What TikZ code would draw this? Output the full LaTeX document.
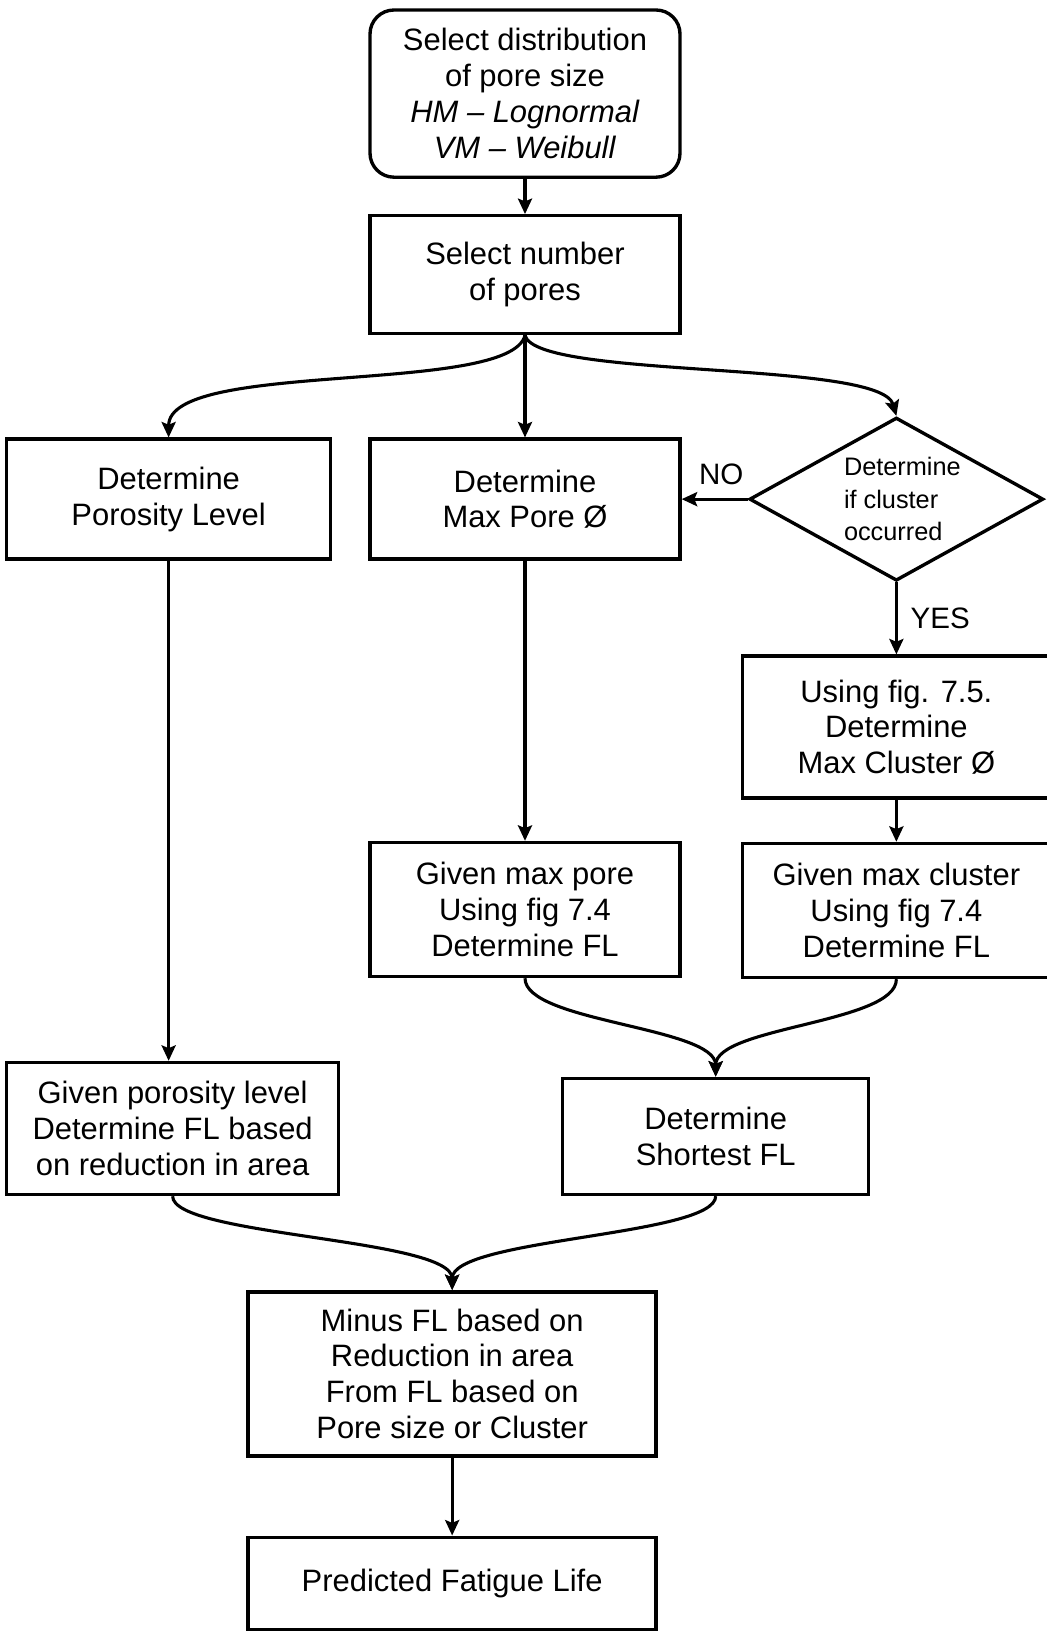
\documentclass[tikz,border=0pt]{standalone}
\usepackage{fontspec}
\setmainfont{Liberation Sans}
\usetikzlibrary{shapes.geometric, arrows.meta, positioning, calc}
\tikzstyle{process} = [rectangle, minimum width=7.75cm, minimum height=3cm, text centered, align=center, draw=black, line width=2.4pt, fill=white, font=\fontsize{22}{25.5}\selectfont]
\tikzstyle{startbox} = [process, rounded corners=0.6cm, minimum height=4.18cm]
\tikzstyle{decision} = [diamond, aspect=1.8, draw=black, line width=2.4pt, minimum width=7.35cm, minimum height=4.08cm, inner sep=0pt, align=left, font=\fontsize{18}{23}\selectfont]
\tikzstyle{arrow} = [line width=2.2pt,->,>={Stealth[length=11pt,width=10pt,inset=2pt]}]
\tikzstyle{answer} = [font=\fontsize{21}{25}\selectfont]

\begin{document}
\begin{tikzpicture}
\useasboundingbox[fill=white] (0,0) rectangle (26.15,-40.875);

% Selection steps
\node (dist) [startbox] at (13.125,-2.34) {Select distribution\\of pore size\\\textit{HM -- Lognormal}\\\textit{VM -- Weibull}};
\node (number) [process, below=0.88cm of dist, minimum height=2.95cm] {Select number\\of pores};

% Three branches
\node (maxpore) [process, below=2.55cm of number] {Determine\\Max Pore Ø};
\node (porosity) [process, left=0.9cm of maxpore, minimum width=8.1cm] {Determine\\Porosity Level};
\node (cluster) [decision, right=1.65cm of maxpore] {\hspace*{0.3cm}Determine\\\hspace*{0.3cm}if cluster\\\hspace*{0.3cm}occurred};

% Fatigue life per branch
\node (usefig) [process, below=1.8cm of cluster, minimum width=7.7cm, minimum height=3.55cm] {Using fig. 7.5.\\Determine\\Max Cluster Ø};
\node (flcluster) [process, below=1.05cm of usefig, minimum width=7.7cm, minimum height=3.35cm] {Given max cluster\\Using fig 7.4\\Determine FL};
\node (flpore) [process, below=7.0cm of maxpore, minimum height=3.35cm] {Given max pore\\Using fig 7.4\\Determine FL};
\node (flporos) [process, below=12.5cm of porosity, minimum width=8.3cm, minimum height=3.3cm, xshift=0.1cm] {Given porosity level\\Determine FL based\\on reduction in area};

% Merging
\coordinate (upper) at ($(flpore.south)!0.5!(flcluster.south)$);
\node (shortest) [process, below=2.45cm of upper, minimum width=7.65cm, minimum height=2.9cm, xshift=0.125cm] {Determine\\Shortest FL};
\coordinate (lower) at ($(flporos.south)!0.5!(shortest.south)$);
\node (minus) [process, below=2.35cm of lower, minimum width=10.2cm, minimum height=4.1cm, xshift=0.2cm] {Minus FL based on\\Reduction in area\\From FL based on\\Pore size or Cluster};
\node (predicted) [process, below=1.95cm of minus, minimum width=10.2cm, minimum height=2.3cm] {Predicted Fatigue Life};

% Connections
\draw [arrow] (dist) -- (number);
\draw [arrow] (number) -- (maxpore);
\draw [arrow] (number.south) .. controls +(-0.4,-1.5) and +(0,1.95) .. (porosity.north);
\draw [arrow] (number.south) .. controls +(0.3,-1.1) and +(-0.4,1.4) .. (cluster.north);
\draw [arrow] (cluster.west) -- node[answer, above=0.2cm, pos=0.4] {NO} (maxpore.east);
\draw [arrow] (cluster.south) -- node[answer, right=0.2cm] {YES} (usefig.north);
\draw [arrow] (usefig) -- (flcluster);
\draw [arrow] (maxpore) -- (flpore);
\draw [arrow] (porosity.south) -- (porosity.south |- flporos.north);
\draw [arrow] (flpore.south) .. controls +(0,-1.1) and +(0,1.25) .. (shortest.north);
\draw [arrow] (flcluster.south) .. controls +(0,-1.1) and +(0,1.25) .. (shortest.north);
\draw [arrow] (flporos.south) .. controls +(0,-1.0) and +(0,1.3) .. (minus.north);
\draw [arrow] (shortest.south) .. controls +(0,-1.0) and +(0,1.3) .. (minus.north);
\draw [arrow] (minus) -- (predicted);

\end{tikzpicture}
\end{document}
